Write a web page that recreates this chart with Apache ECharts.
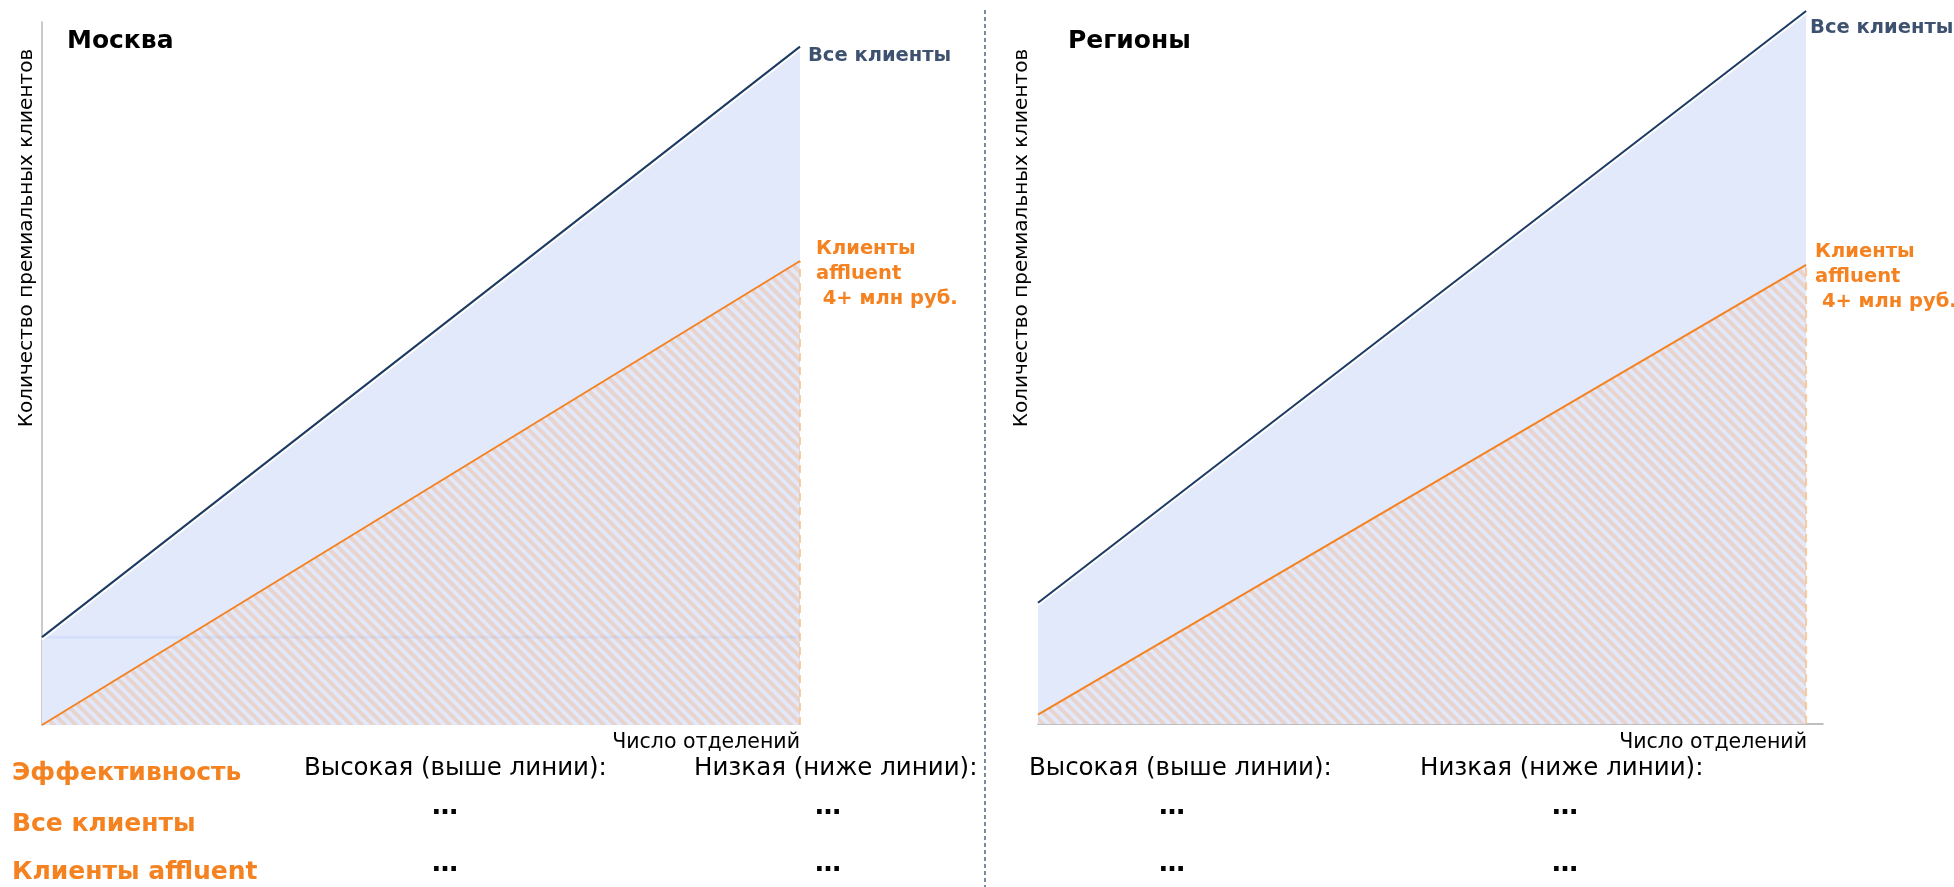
<!DOCTYPE html>
<html>
<head>
<meta charset="utf-8">
<script src="https://cdn.jsdelivr.net/npm/echarts@6/dist/echarts.min.js"></script>
<style>
  html, body { margin: 0; padding: 0; background: #ffffff; }
  #chart { width: 1954px; height: 887px; }
</style>
</head>
<body>
<div id="chart"></div>
<script>
// Branch count at the start and end of each trend line
const branchRange = [0, 10];
// Premium client counts at the first and last branch count
const moscowAll = [12.5, 96.5];
const moscowAffluent = [0, 66];
const regionsAll = [17, 100];
const regionsAffluent = [1.3, 64.4];

const panelTitles = ['Москва', 'Регионы'];
const yAxisTitle = 'Количество премиальных клиентов';
const xAxisTitle = 'Число отделений';
const lineNames = ['Все клиенты', 'Клиенты\naffluent\n 4+ млн руб.'];
const rowHeaders = ['Эффективность', 'Все клиенты', 'Клиенты affluent'];
const columnHeaders = ['Высокая (выше линии):', 'Низкая (ниже линии):'];
const cellText = '…';

const FONT = '"DejaVu Sans", Verdana, sans-serif';
const ORANGE = '#f58220';
const NAVY = '#1d3a62';
const FILL = '#e2e9fb';

// Diagonal "\" hatching used under the affluent line
function hatchPattern() {
  const s = 11;
  const c = document.createElement('canvas');
  c.width = s; c.height = s;
  const g = c.getContext('2d');
  g.strokeStyle = 'rgba(246,150,80,0.27)';
  g.lineWidth = 4;
  g.beginPath();
  g.moveTo(-s, -s); g.lineTo(2 * s, 2 * s);
  g.moveTo(-s, 0); g.lineTo(s, 2 * s);
  g.moveTo(0, -s); g.lineTo(2 * s, s);
  g.stroke();
  return c;
}
const hatch = { image: hatchPattern(), repeat: 'repeat' };

function pairs(vals) {
  return [[branchRange[0], vals[0]], [branchRange[1], vals[1]]];
}

// labelOffsets: [all clients label, affluent label]
function panelSeries(idx, all, affluent, labelOffsets, showSeam) {
  const axes = { xAxisIndex: idx, yAxisIndex: idx };
  const list = [
    // light-blue band under the "all clients" line
    Object.assign({
      type: 'line', data: pairs(all), showSymbol: false, silent: true, z: 1,
      lineStyle: { width: 0 },
      areaStyle: { color: FILL, opacity: 1 }
    }, axes),
    // hatched zone under the affluent line
    Object.assign({
      type: 'line', data: pairs(affluent), showSymbol: false, silent: true, z: 2,
      lineStyle: { width: 0 },
      areaStyle: { color: hatch, opacity: 1 }
    }, axes),
    // dashed right edge of the hatched zone
    Object.assign({
      type: 'line', data: [[branchRange[1], 0], [branchRange[1], affluent[1]]],
      showSymbol: false, silent: true, z: 2,
      lineStyle: { color: 'rgba(250,190,130,0.75)', width: 2, type: [8, 6] }
    }, axes),
    // affluent clients line
    Object.assign({
      type: 'line', name: lineNames[1], data: pairs(affluent), showSymbol: false, z: 3,
      lineStyle: { color: ORANGE, width: 2 },
      endLabel: {
        show: true, formatter: lineNames[1], color: ORANGE, fontFamily: FONT,
        fontWeight: 'bold', fontSize: 19.5, lineHeight: 25, offset: labelOffsets[1]
      }
    }, axes),
    // all clients line
    Object.assign({
      type: 'line', name: lineNames[0], data: pairs(all), showSymbol: false, z: 4,
      lineStyle: { color: NAVY, width: 2, shadowColor: '#ffffff', shadowBlur: 0, shadowOffsetY: 2.5 },
      endLabel: {
        show: true, formatter: lineNames[0], color: '#3e5270', fontFamily: FONT,
        fontWeight: 'bold', fontSize: 19.5, offset: labelOffsets[0]
      }
    }, axes)
  ];
  if (showSeam) {
    // faint seam where the lower block of the band meets the upper wedge
    list.splice(1, 0, Object.assign({
      type: 'line', data: [[branchRange[0], all[0]], [branchRange[1], all[0]]],
      showSymbol: false, silent: true, z: 1,
      lineStyle: { color: '#d5dffa', width: 3 }
    }, axes));
  }
  return list;
}

function hiddenAxisBits() {
  return { axisTick: { show: false }, axisLabel: { show: false }, splitLine: { show: false } };
}

function text(x, y, str, style) {
  return {
    type: 'text', x: x, y: y, silent: true,
    style: Object.assign({ text: str, fontFamily: FONT, fill: '#000', textVerticalAlign: 'middle' }, style)
  };
}

const graphics = [
  // divider between the two panels
  { type: 'line', silent: true, shape: { x1: 985, y1: 10, x2: 985, y2: 887 },
    style: { stroke: '#4d6484', lineWidth: 1.5, lineDash: [4, 3] } },
  text(67, 41, panelTitles[0], { fontSize: 25, fontWeight: 'bold' }),
  text(1068, 41, panelTitles[1], { fontSize: 25, fontWeight: 'bold' }),
  Object.assign(text(27, 238, yAxisTitle, { fontSize: 20, textAlign: 'center' }), { rotation: Math.PI / 2 }),
  Object.assign(text(1022, 238, yAxisTitle, { fontSize: 20, textAlign: 'center' }), { rotation: Math.PI / 2 }),
  text(800, 743, xAxisTitle, { fontSize: 20.5, textAlign: 'right' }),
  text(1807, 743, xAxisTitle, { fontSize: 20.5, textAlign: 'right' }),
  text(12, 773, rowHeaders[0], { fontSize: 25, fontWeight: 'bold', fill: ORANGE }),
  text(12, 824, rowHeaders[1], { fontSize: 25, fontWeight: 'bold', fill: ORANGE }),
  text(12, 872, rowHeaders[2], { fontSize: 25, fontWeight: 'bold', fill: ORANGE })
];

// header row and placeholder cells for each panel
const panelColumns = [[304, 694], [1029, 1420]];
const cellCenters = [[445, 828], [1172, 1565]];
panelColumns.forEach(function (cols, p) {
  cols.forEach(function (x, c) {
    graphics.push(text(x, 769, columnHeaders[c], { fontSize: 24.5 }));
    graphics.push(text(cellCenters[p][c], 807, cellText, { fontSize: 26, fontWeight: 'bold', textAlign: 'center' }));
    graphics.push(text(cellCenters[p][c], 864, cellText, { fontSize: 26, fontWeight: 'bold', textAlign: 'center' }));
  });
});

const chart = echarts.init(document.getElementById('chart'), null, { renderer: 'canvas' });
chart.setOption({
  animation: false,
  backgroundColor: '#ffffff',
  grid: [
    { left: 42, top: 22, width: 758, height: 703 },
    { left: 1038, top: 11, width: 785, height: 713 }
  ],
  xAxis: [
    Object.assign({ type: 'value', gridIndex: 0, min: 0, max: 10, axisLine: { show: false } }, hiddenAxisBits()),
    Object.assign({ type: 'value', gridIndex: 1, min: 0, max: 10.22,
      axisLine: { show: true, lineStyle: { color: '#a9a9a9', width: 1.5 } } }, hiddenAxisBits())
  ],
  yAxis: [
    Object.assign({ type: 'value', gridIndex: 0, min: 0, max: 100,
      axisLine: { show: true, lineStyle: { color: '#b8b8b8', width: 1.5 } } }, hiddenAxisBits()),
    Object.assign({ type: 'value', gridIndex: 1, min: 0, max: 100, axisLine: { show: false } }, hiddenAxisBits())
  ],
  series: panelSeries(0, moscowAll, moscowAffluent, [[0, 9], [8, 13]], true)
    .concat(panelSeries(1, regionsAll, regionsAffluent, [[-4, 17], [1, 12]], false)),
  graphic: graphics
});
</script>
</body>
</html>
